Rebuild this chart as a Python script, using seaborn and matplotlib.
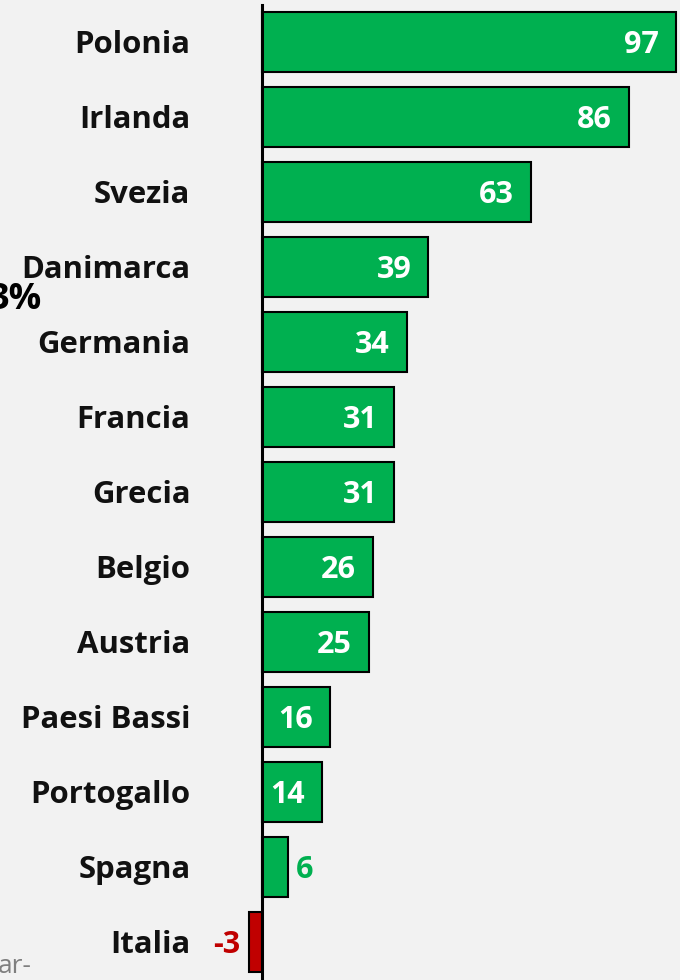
import matplotlib
matplotlib.use("Agg")
import matplotlib.pyplot as plt
import seaborn as sns
import pandas as pd

countries = ["Polonia", "Irlanda", "Svezia", "Danimarca", "Germania", "Francia",
             "Grecia", "Belgio", "Austria", "Paesi Bassi", "Portogallo", "Spagna", "Italia"]
values = [97, 86, 63, 39, 34, 31, 31, 26, 25, 16, 14, 6, -3]

GREEN = "#00B050"
RED = "#C00000"
BG = "#F2F2F2"

df = pd.DataFrame({"country": countries, "value": values})
colors = [GREEN if v >= 0 else RED for v in values]

sns.set_theme(style="white")
plt.rcParams["font.family"] = ["Open Sans", "DejaVu Sans"]

fig = plt.figure(figsize=(6.8, 9.8), dpi=100, facecolor=BG)
ax = fig.add_axes([244.9 / 680, 0.0, 433.2 / 680, 975 / 980])
ax.set_facecolor(BG)

sns.barplot(data=df, y="country", x="value", hue="country", palette=colors,
            legend=False, orient="h", width=0.79, edgecolor="black",
            linewidth=1.5, saturation=1, ax=ax)

ax.set_xlim(-4, 97.5)
ax.set_ylim(12.507, -0.493)
ax.set_xlabel("")
ax.set_ylabel("")
ax.set_xticks([])
for s in ["top", "right", "bottom"]:
    ax.spines[s].set_visible(False)
ax.spines["left"].set_position(("data", 0))
ax.spines["left"].set_linewidth(2.2)
ax.spines["left"].set_color("black")
ax.tick_params(axis="y", length=0, pad=51.5)
for lab in ax.get_yticklabels():
    lab.set_fontweight("bold")
    lab.set_fontsize(22.4)
    lab.set_color("#111111")

for i, v in enumerate(values):
    if v >= 10:
        ax.text(v - 4.0, i, str(v), ha="right", va="center_baseline", color="white",
                fontsize=22, fontweight="bold")
    elif v >= 0:
        ax.text(v + 1.9, i, str(v), ha="left", va="center_baseline", color=GREEN,
                fontsize=22, fontweight="bold")
    else:
        ax.text(v - 2.0, i, str(v), ha="right", va="center_baseline", color=RED,
                fontsize=22, fontweight="bold")

fig.text(42 / 680, 1 - 300 / 980, "3%", ha="right", va="center",
         fontsize=26, fontweight="bold", color="black")
fig.text(-2 / 680, 1 - 966 / 980, "ar-", ha="left", va="center",
         fontsize=19, color="#7F7F7F")

fig.savefig("out.png", dpi=100, facecolor=BG)
